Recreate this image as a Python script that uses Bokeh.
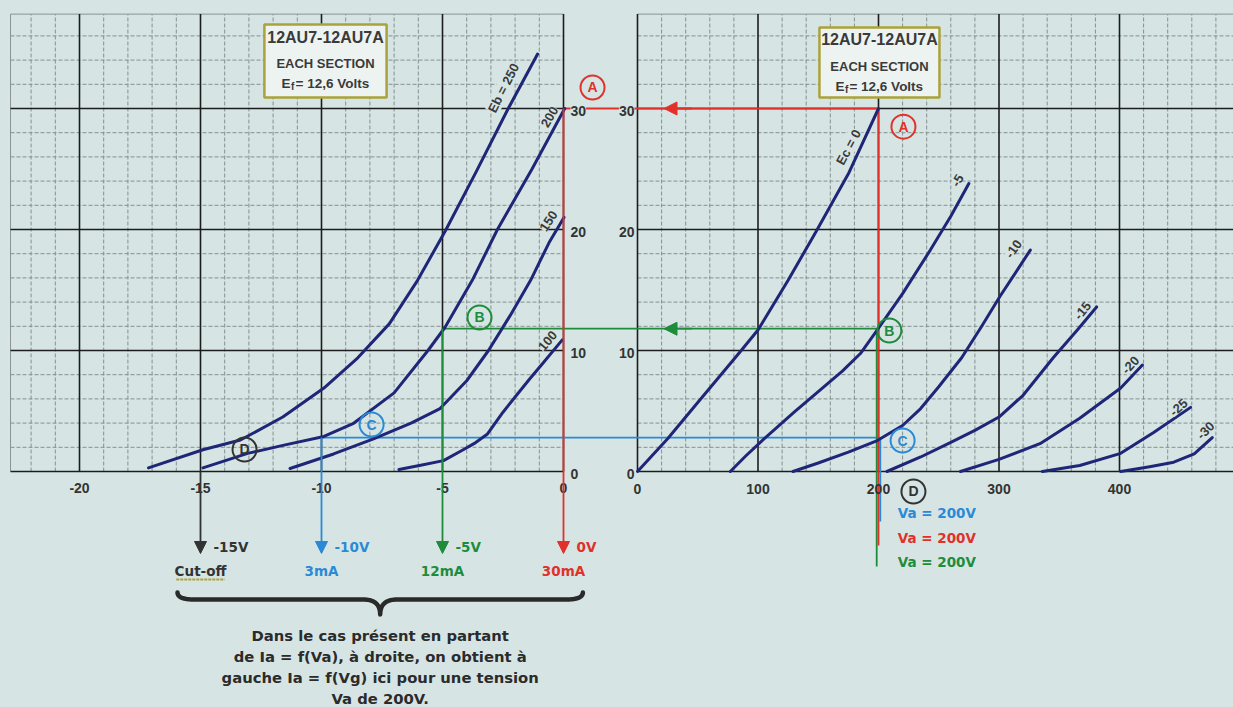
import numpy as np
from bokeh.plotting import figure
from bokeh.models import Range1d, Arrow, NormalHead
from bokeh.core.properties import value
from bokeh.embed import file_html
from bokeh.resources import INLINE

# ---------------- data ----------------
# Transfer characteristics (left): Ia [mA] = f(Vg [V]) for several plate voltages
eb250_vg = [-17.15, -14.9, -13.35, -11.6, -9.9, -8.5, -7.2, -6.03, -4.88, -3.6, -2.31, -1.07]
eb250_ia = [0.3, 1.8, 2.6, 4.5, 6.9, 9.4, 12.2, 15.8, 19.9, 24.8, 29.9, 34.5]
eb200_vg = [-14.9, -13.05, -11.5, -9.9, -8.7, -7.0, -5.6, -4.9, -3.77, -2.73, -1.3, 0.05]
eb200_ia = [0.3, 1.5, 2.2, 2.9, 3.95, 6.5, 10.0, 11.9, 15.8, 20.0, 25.0, 30.0]
eb150_vg = [-11.3, -9.5, -7.85, -6.3, -5.1, -4.0, -3.1, -2.2, -1.36, -0.6, 0.02]
eb150_ia = [0.25, 1.45, 2.7, 4.0, 5.2, 7.5, 10.0, 12.9, 15.8, 18.9, 21.0]
eb100_vg = [-6.8, -5.9, -4.96, -4.2, -3.7, -3.14, -2.5, -1.9, -1.4, -0.87, -0.05]
eb100_ia = [0.17, 0.52, 0.9, 1.74, 2.3, 3.1, 4.9, 6.4, 7.64, 8.9, 10.88]
eb_labels = ["Eb = 250", "200", "150", "100"]

# Plate characteristics (right): Ia [mA] = f(Va [V]) for several grid voltages
ec0_va = [0, 25, 50, 84, 100, 125, 148, 175, 200]
ec0_ia = [0, 2.7, 5.7, 9.75, 11.7, 15.8, 19.8, 24.6, 30.0]
ec5_va = [77, 90, 105, 130, 150, 170, 185, 199, 220, 243, 260, 275]
ec5_ia = [0, 1.3, 2.7, 4.9, 6.6, 8.3, 9.75, 11.7, 14.7, 18.3, 21.1, 23.8]
ec10_va = [129, 150, 175, 199, 220, 235, 250, 269, 285, 301, 326]
ec10_ia = [0, 0.7, 1.6, 2.56, 3.8, 5.2, 7.0, 9.4, 11.9, 14.5, 18.3]
ec15_va = [207, 235, 260, 280, 300, 320, 345, 365, 381]
ec15_ia = [0, 1.2, 2.4, 3.4, 4.5, 6.3, 9.4, 11.7, 13.6]
ec20_va = [268, 300, 334, 367, 401, 419]
ec20_ia = [0, 1.0, 2.3, 4.4, 6.9, 8.8]
ec25_va = [336, 367, 401, 428, 459]
ec25_ia = [0, 0.5, 1.5, 3.2, 5.3]
ec30_va = [401, 425, 445, 462, 477]
ec30_ia = [0, 0.4, 0.77, 1.45, 2.8]
ec_labels = ["Ec = 0", "-5", "-10", "-15", "-20", "-25", "-30"]

# Operating points read at Va = 200 V
op_va = 200
op_vg = [0, -5, -10, -15]
op_ia = [30, 11.8, 2.8, 0]
op_v_labels = ["0V", "-5V", "-10V", "-15V"]
op_i_labels = ["30mA", "12mA", "3mA", "Cut-off"]
op_letters = ["A", "B", "C", "D"]

vg_ticks = [-20, -15, -10, -5, 0]
va_ticks = [0, 100, 200, 300, 400]
ia_ticks = [0, 10, 20, 30]

title_lines = ["12AU7-12AU7A", "EACH SECTION"]
note_lines = ["Dans le cas présent en partant",
              "de Ia = f(Va), à droite, on obtient à",
              "gauche Ia = f(Vg) ici pour une tension",
              "Va de 200V."]

# ---------------- styling / geometry ----------------
W, H = 1233, 707
VG_PX, VG0 = 24.2, 563.0     # px per volt (grid), screen x of Vg=0
VA_PX, VA0 = 1.205, 637.0    # px per volt (plate), screen x of Va=0
IA_PX, IA0 = 12.1, 471.0     # px per mA, screen y of Ia=0

BG = "#d6e5e4"
NAVY = "#1f2678"
RED = "#e2302a"
GREEN = "#1e8c3a"
BLUE = "#2a8ad6"
DARK = "#333333"
MAJOR = "#1c1c1c"
MINOR = "#85908f"
OLIVE = "#aaa23a"
SANS = "Liberation Sans"
DJV = "DejaVu Sans"

VG_LEFT = -22.85
IA_TOP = 37.8
VA_RIGHT = 500


def vg_to_va(v):
    return (VG0 + v * VG_PX - VA0) / VA_PX


def dy(px):
    return px / IA_PX


p = figure(width=W, height=H, output_backend="svg", toolbar_location=None,
           x_range=Range1d(-VG0 / VG_PX, (W - VG0) / VG_PX),
           y_range=Range1d((IA0 - H) / IA_PX, IA0 / IA_PX),
           x_axis_location=None, y_axis_location=None, min_border=0)
p.extra_x_ranges = {"va": Range1d(-VA0 / VA_PX, (W - VA0) / VA_PX)}
p.grid.visible = False
p.outline_line_color = None
p.background_fill_color = BG
p.border_fill_color = BG


def lab(x, y, s, color=DARK, size=14, font=SANS, align="center", baseline="middle",
        angle=0.0, rng=None, bg=None, xo=0):
    kw = dict(text_color=color, text_font=value(font), text_font_size=f"{size}px",
              text_font_style="bold", text_align=align, text_baseline=baseline,
              angle=angle, x_offset=xo)
    if rng:
        kw["x_range_name"] = rng
    if bg:
        kw.update(background_fill_color=bg, background_fill_alpha=1.0)
    p.text(x=[x], y=[y], text=[s], **kw)


# ---------------- grids ----------------
minor_vg = [v for v in range(-22, 0) if v % 5]
minor_ia = [i for i in range(2, 38, 2) if i % 10]
minor_va = [v for v in range(20, VA_RIGHT, 20) if v % 100]

p.segment(x0=minor_vg, y0=0, x1=minor_vg, y1=IA_TOP, line_color=MINOR, line_width=1, line_dash="4 2")
p.segment(x0=VG_LEFT, y0=minor_ia, x1=0, y1=minor_ia, line_color=MINOR, line_width=1, line_dash="4 2")
p.segment(x0=minor_va, y0=0, x1=minor_va, y1=IA_TOP, line_color=MINOR, line_width=1, line_dash="4 2",
          x_range_name="va")
p.segment(x0=0, y0=minor_ia, x1=VA_RIGHT, y1=minor_ia, line_color=MINOR, line_width=1, line_dash="4 2",
          x_range_name="va")
# frames
p.segment(x0=[VG_LEFT, VG_LEFT], y0=[0, IA_TOP], x1=[VG_LEFT, 0], y1=[IA_TOP, IA_TOP],
          line_color="#8a9494", line_width=1)
p.segment(x0=[0], y0=[IA_TOP], x1=[VA_RIGHT], y1=[IA_TOP], line_color="#8a9494", line_width=1,
          x_range_name="va")
# major lines
p.segment(x0=vg_ticks, y0=0, x1=vg_ticks, y1=IA_TOP, line_color=MAJOR, line_width=1.6)
p.segment(x0=VG_LEFT, y0=ia_ticks, x1=0, y1=ia_ticks, line_color=MAJOR, line_width=1.6)
p.segment(x0=va_ticks, y0=0, x1=va_ticks, y1=IA_TOP, line_color=MAJOR, line_width=1.6, x_range_name="va")
p.segment(x0=0, y0=ia_ticks, x1=VA_RIGHT, y1=ia_ticks, line_color=MAJOR, line_width=1.6, x_range_name="va")

# ---------------- header boxes ----------------
boxes = [(-12.36, -7.31, 36.94, 30.91, None), (151.0, 250.6, 36.7, 30.9, "va")]
for (l, r, t, b, rng) in boxes:
    kw = {"x_range_name": rng} if rng else {}
    p.quad(left=l, right=r, top=t, bottom=b, fill_color="#edf3f1", line_color=OLIVE, line_width=2.5, **kw)
    cx = (l + r) / 2
    lab(cx, t - dy(12.5), title_lines[0], color="#3a3a3a", size=16, rng=rng)
    lab(cx, t - dy(39), title_lines[1], color="#3a3a3a", size=13, rng=rng)
    ly = t - dy(59)
    lab(cx, ly, "E", color="#3a3a3a", size=13.5, align="left", xo=-44, rng=rng)
    lab(cx, ly - dy(3), "f", color="#3a3a3a", size=10, align="left", xo=-34.5, rng=rng)
    lab(cx, ly, "= 12,6 Volts", color="#3a3a3a", size=13.5, align="left", xo=-30, rng=rng)

# ---------------- colored construction lines ----------------
cols = [RED, GREEN, BLUE, DARK]
va_gap = vg_to_va(0)
ARROW_TIP = -dy(82)
for k in range(3):
    c = cols[k]
    p.segment(x0=[op_vg[k]], y0=[op_ia[k]], x1=[0], y1=[op_ia[k]], line_color=c, line_width=1.8)
    p.segment(x0=[va_gap], y0=[op_ia[k]], x1=[op_va], y1=[op_ia[k]], line_color=c, line_width=1.8,
              x_range_name="va")
for k in range(2):
    p.add_layout(Arrow(end=NormalHead(size=13, fill_color=cols[k], line_color=cols[k]),
                       x_start=45, y_start=op_ia[k], x_end=22, y_end=op_ia[k],
                       line_color=cols[k], line_width=1.8, x_range_name="va"))
for k in range(4):
    c = cols[k]
    p.add_layout(Arrow(end=NormalHead(size=12, fill_color=c, line_color=c),
                       x_start=op_vg[k], y_start=op_ia[k], x_end=op_vg[k], y_end=ARROW_TIP,
                       line_color=c, line_width=1.8))
    lab(op_vg[k], -dy(75), op_v_labels[k], color=c, size=13.5, font=DJV, align="left", xo=13)
    lab(op_vg[k], -dy(99), op_i_labels[k], color=c, size=13.5, font=DJV)
p.segment(x0=[op_vg[3] - 1.0], y0=[-dy(108)], x1=[op_vg[3] + 1.0], y1=[-dy(108)],
          line_color=OLIVE, line_width=2, line_dash="3 1")

# right-chart verticals at Va = 200 V
p.segment(x0=[op_va + 1.5], y0=[op_ia[2]], x1=[op_va + 1.5], y1=[-dy(50)], line_color=BLUE, line_width=1.8,
          x_range_name="va")
p.segment(x0=[op_va], y0=[op_ia[0]], x1=[op_va], y1=[-dy(74)], line_color=RED, line_width=1.8,
          x_range_name="va")
p.segment(x0=[op_va - 1.5], y0=[op_ia[1]], x1=[op_va - 1.5], y1=[-dy(95)], line_color=GREEN, line_width=1.8,
          x_range_name="va")
for c, yy in [(BLUE, 41), (RED, 66), (GREEN, 90)]:
    lab(op_va + 16, -dy(yy), "Va = 200V", color=c, size=13.5, font=DJV, align="left", rng="va")

# ---------------- curves ----------------
for vg, ia in [(eb250_vg, eb250_ia), (eb200_vg, eb200_ia), (eb150_vg, eb150_ia), (eb100_vg, eb100_ia)]:
    p.line(vg, ia, line_color=NAVY, line_width=3, line_cap="round", line_join="round")
for va, ia in [(ec0_va, ec0_ia), (ec5_va, ec5_ia), (ec10_va, ec10_ia), (ec15_va, ec15_ia),
               (ec20_va, ec20_ia), (ec25_va, ec25_ia), (ec30_va, ec30_ia)]:
    p.line(va, ia, line_color=NAVY, line_width=3, line_cap="round", line_join="round", x_range_name="va")

eb_pos = [(-2.48, 31.7, 63), (-0.58, 29.3, 60), (-0.62, 20.7, 57), (-0.66, 10.8, 50)]
for s, (x, y, a) in zip(eb_labels, eb_pos):
    lab(x, y, s, color="#3a3a3a", size=13, angle=np.radians(a), bg=BG)
ec_pos = [(175.1, 26.8, 62), (265.6, 24.05, 58), (312, 18.4, 55), (369.3, 13.3, 50),
          (409.1, 8.8, 47), (449, 5.3, 42), (471.4, 3.4, 45)]
for s, (x, y, a) in zip(ec_labels, ec_pos):
    lab(x, y, s, color="#3a3a3a", size=13, angle=np.radians(a), bg=BG, rng="va")

# ---------------- tick labels ----------------
for v in vg_ticks:
    lab(v, -dy(16), str(v), size=14)
for v in va_ticks:
    lab(v, -dy(17), str(v), size=14, rng="va")
for i in ia_ticks:
    lab(0.29, i - dy(2.5), str(i), size=14, align="left", bg=BG)
    lab(-2.5, i - dy(2.5), str(i), size=14, align="right", bg=BG, rng="va")

# ---------------- lettered circles ----------------
circ_left = [(1.2, 31.74), (-3.47, 12.73), (-7.93, 3.88), (-13.18, 1.82)]
circ_right = [(220.7, 28.5), (209, 11.65), (220, 2.56), (229, -1.65)]
for k in range(4):
    c = cols[k]
    (x, y) = circ_left[k]
    p.scatter([x], [y], marker="circle", size=24, line_color=c, line_width=2, fill_alpha=0)
    lab(x, y, op_letters[k], color=c, size=14)
    (x, y) = circ_right[k]
    p.scatter([x], [y], marker="circle", size=24, line_color=c, line_width=2, fill_alpha=0, x_range_name="va")
    lab(x, y, op_letters[k], color=c, size=14, rng="va")


# ---------------- curly brace ----------------
def qbez(p0, c, p1, n=20):
    t = np.linspace(0, 1, n)[:, None]
    return (1 - t) ** 2 * np.array(p0) + 2 * (1 - t) * t * np.array(c) + t ** 2 * np.array(p1)


xl, xr = op_vg[3] - 0.95, op_vg[0] + 0.8
xm = (xl + xr) / 2
y_end, y_bar, y_tip = -dy(121), -dy(128), -dy(143)
hq = 0.7
seg1 = qbez((xl, y_end), (xl, y_bar), (xl + hq, y_bar))
seg2 = qbez((xm - hq, y_bar), (xm, y_bar), (xm, y_tip))
seg3 = qbez((xm, y_tip), (xm, y_bar), (xm + hq, y_bar))
seg4 = qbez((xr - hq, y_bar), (xr, y_bar), (xr, y_end))
path = np.vstack([seg1, seg2, seg3, seg4])
p.line(path[:, 0], path[:, 1], line_color="#2a2a2a", line_width=4.5, line_cap="round", line_join="round")

# ---------------- explanatory note ----------------
for j, s in enumerate(note_lines):
    lab(xm, -dy(164 + 21 * j), s, color="#2b2b2b", size=14.8, font=DJV)

html = file_html(p, INLINE)
html = html.replace("<head>", "<head><style>body{background:%s;}</style>" % BG, 1)
open("out.html", "w").write(html)
